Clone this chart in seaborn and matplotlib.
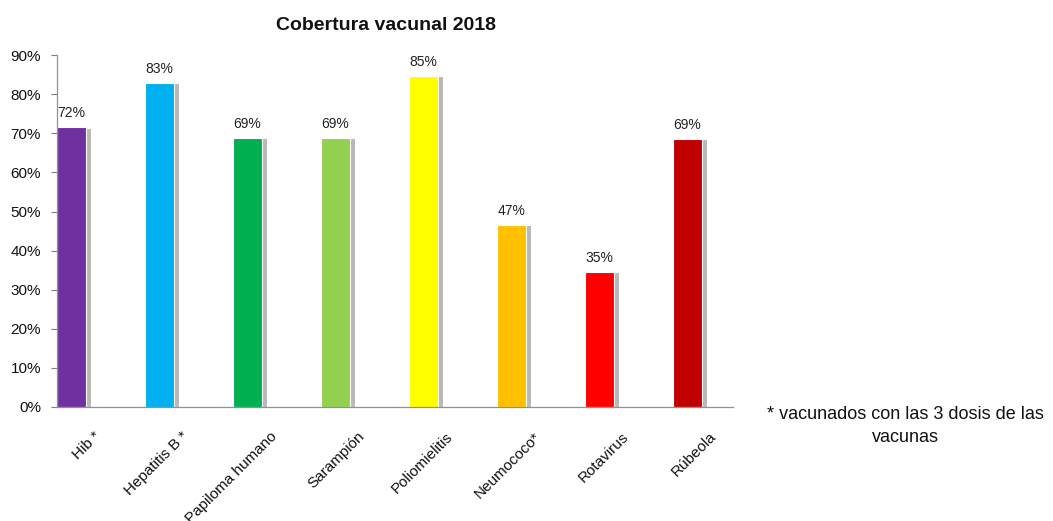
import matplotlib
matplotlib.use("Agg")
import matplotlib.pyplot as plt
import matplotlib.patheffects as pe
import matplotlib.transforms as mtransforms
from matplotlib.ticker import FuncFormatter, MultipleLocator
import seaborn as sns
import pandas as pd

categories = ["Hib *", "Hepatitis B *", "Papiloma humano", "Sarampión", "Poliomielitis",
              "Neumococo*", "Rotavirus", "Rúbeola"]
values = [71.6, 82.9, 68.8, 68.8, 84.7, 46.6, 34.6, 68.6]
labels = ["72%", "83%", "69%", "69%", "85%", "47%", "35%", "69%"]
colors = ["#7030A0", "#00B0F0", "#00B050", "#92D050", "#FFFF00", "#FFC000", "#FF0000", "#C00000"]
title = "Cobertura vacunal 2018"
footnote = "* vacunados con las 3 dosis de las\nvacunas"

sns.set_theme(style="white")
plt.rcParams["font.family"] = ["Liberation Sans", "DejaVu Sans"]

df = pd.DataFrame({"cat": categories, "val": values})

fig = plt.figure(figsize=(10.53, 5.21), dpi=100)
ax = fig.add_axes([0.054, 0.219, 0.642, 0.675])

sns.barplot(data=df, x="cat", y="val", hue="cat", palette=colors, legend=False,
            width=0.33, ax=ax, edgecolor="white", linewidth=0.8, saturation=1)

for p in ax.patches:
    p.set_path_effects([pe.SimplePatchShadow(offset=(3.5, -1), shadow_rgbFace="#808080", alpha=0.55),
                        pe.Normal()])

for p, lab in zip(ax.patches, labels):
    ax.annotate(lab, (p.get_x() + p.get_width() / 2, p.get_height()),
                xytext=(0, 5), textcoords="offset points", ha="center", va="bottom",
                fontsize=10, color="#222222")

ax.set_ylim(0, 90)
ax.set_xlim(-0.165, 7.52)
ax.yaxis.set_major_locator(MultipleLocator(10))
ax.yaxis.set_major_formatter(FuncFormatter(lambda v, _: f"{v:.0f}%"))
ax.tick_params(axis="y", which="major", left=True, length=4, width=0.8, color="#808080",
               labelsize=11, pad=7.5, labelcolor="#111111")
ax.tick_params(axis="x", bottom=False, labelsize=11, labelcolor="#111111", pad=0)
offset = mtransforms.ScaledTranslation(0.27, -0.19, fig.dpi_scale_trans)
for t in ax.get_xticklabels():
    t.set_rotation(45)
    t.set_ha("right")
    t.set_va("center")
    t.set_rotation_mode("anchor")
    t.set_transform(t.get_transform() + offset)

for s in ["top", "right"]:
    ax.spines[s].set_visible(False)
for s in ["left", "bottom"]:
    ax.spines[s].set_color("#909090")
    ax.spines[s].set_linewidth(0.9)

ax.set_xlabel("")
ax.set_ylabel("")
ax.set_title(title, fontsize=14, fontweight="bold", pad=18, color="#111111", x=0.487)

fig.text(0.86, 0.22, footnote, ha="center", va="top", fontsize=13,
         color="#111111", linespacing=1.45)

fig.savefig("out.png", dpi=100, facecolor="white")
